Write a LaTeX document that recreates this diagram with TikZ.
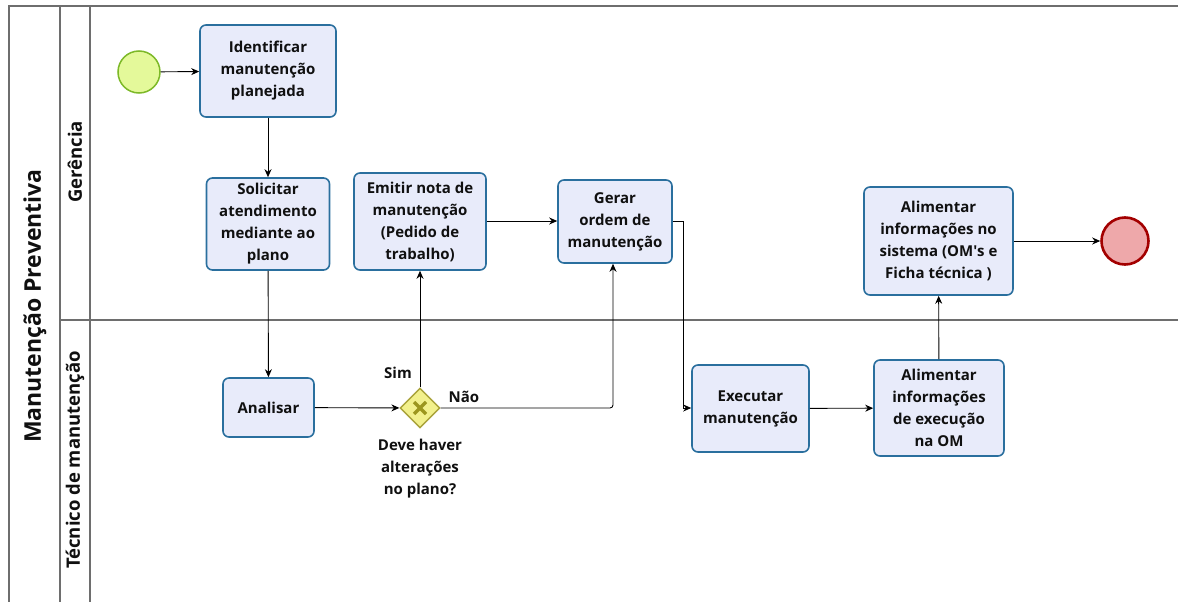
\documentclass[tikz,border=0pt]{standalone}
\usepackage{fontspec}
\setmainfont{Open Sans}
\usetikzlibrary{arrows.meta,shapes.geometric,calc}
\definecolor{taskfill}{HTML}{E8EBFA}
\definecolor{taskline}{HTML}{2A6F9E}
\definecolor{startfill}{HTML}{E4F99A}
\definecolor{startline}{HTML}{7DB928}
\definecolor{endfill}{HTML}{EEA8AA}
\definecolor{endline}{HTML}{A30000}
\definecolor{gwfill}{HTML}{F2F08C}
\definecolor{gwline}{HTML}{A9A23A}
\definecolor{gwmark}{HTML}{9C961E}
\definecolor{poolline}{HTML}{6E6E6E}
\definecolor{txt}{HTML}{101010}
\tikzset{
  task/.style={draw=taskline, fill=taskfill, line width=1.6pt, rounded corners=6pt,
    align=center, font=\bfseries\fontsize{15}{22}\selectfont, text=txt, inner sep=0pt},
  flow/.style={draw=black, line width=0.9pt, -{Stealth[length=8pt,width=7pt]}},
  lbl/.style={font=\bfseries\fontsize{15}{22}\selectfont, text=txt, align=center},
  lanelbl/.style={rotate=90, font=\bfseries\fontsize{18.5}{22}\selectfont, text=txt},
  lane/.style={draw=poolline, line width=1.3pt},
}
\begin{document}
\begin{tikzpicture}[x=1pt,y=-1pt]
\useasboundingbox (0,0) rectangle (1178,602);
% pool and lanes
\draw[lane] (9,602) -- (9,6) -- (1178,6);
\draw[lane] (60,6) -- (60,602);
\draw[lane] (90,6) -- (90,602);
\draw[lane] (60,320) -- (1178,320);
\node[rotate=90, font=\bfseries\fontsize{23}{26}\selectfont, text=txt] (pool) at (35,306) {Manutenção Preventiva};
\node[lanelbl] (lg) at (75,162) {Gerência};
\node[lanelbl] (lt) at (75,460) {Técnico de manutenção};

% events
\node[circle, draw=startline, fill=startfill, line width=1.5pt, minimum size=42pt, inner sep=0pt] (start) at (139,72) {};
\node[circle, draw=endline, fill=endfill, line width=2.6pt, minimum size=47pt, inner sep=0pt] (end) at (1125,241) {};

% tasks
\node[task, minimum width=136pt, minimum height=92pt] (ident) at (268,71) {Identificar\\manutenção\\planejada};
\node[task, minimum width=123pt, minimum height=92pt] (solic) at (268,224) {Solicitar\\atendimento\\mediante ao\\plano};
\node[task, minimum width=132pt, minimum height=97pt] (emitir) at (420,221.5) {Emitir nota de\\manutenção\\(Pedido de\\trabalho)};
\node[task, minimum width=114pt, minimum height=83pt] (gerar) at (615,221.5) {Gerar\\ordem de\\manutenção};
\node[task, minimum width=149pt, minimum height=108pt] (alsis) at (938.5,241) {Alimentar\\informações no\\sistema (OM\textquotesingle s e\\Ficha técnica )};
\node[task, minimum width=91pt, minimum height=59pt] (anal) at (268.5,407.5) {Analisar};
\node[task, minimum width=117pt, minimum height=87pt] (exec) at (750.5,408.5) {Executar\\manutenção};
\node[task, minimum width=130pt, minimum height=96pt] (alexe) at (939,408) {Alimentar\\informações\\de execução\\na OM};

% gateway
\node[diamond, draw=gwline, fill=gwfill, line width=1.4pt, minimum size=40pt, inner sep=0pt, aspect=1] (gw) at (420,408) {};
\draw[gwmark, line width=3.2pt] ($(gw)+(-6,-6)$) -- ($(gw)+(6,6)$);
\draw[gwmark, line width=3.2pt] ($(gw)+(-6,6)$) -- ($(gw)+(6,-6)$);
\node[lbl] (gwq) at (420,469) {Deve haver\\alterações\\no plano?};
\node[lbl] (sim) at (398,373) {Sim};
\node[lbl] (nao) at (464,397) {Não};

% sequence flows
\draw[flow] (start) -- (ident);
\draw[flow] (ident) -- (solic);
\draw[flow] (solic) -- (anal);
\draw[flow] (anal) -- (gw);
\draw[flow] (gw.north) -- (emitir.south);
\draw[flow, rounded corners=3pt] (gw.east) -- (613,408) -- (gerar.south -| 613,0);
\draw[flow] (emitir.east |- 0,221) -- (gerar.west |- 0,221);
\draw[flow] (gerar.east |- 0,221) -- (683,221) -- (683,408) -- (exec.west |- 0,408);
\draw[flow] (exec) -- (alexe);
\draw[flow] (alexe) -- (alsis);
\draw[flow] (alsis) -- (end);
\end{tikzpicture}
\end{document}
